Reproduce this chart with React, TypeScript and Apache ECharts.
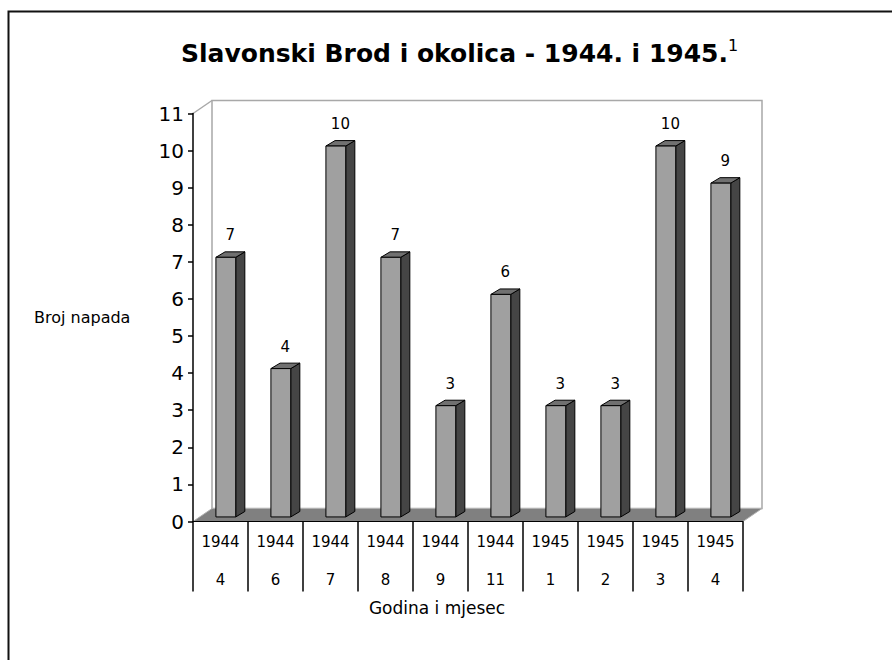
import React, { useEffect, useRef } from "react";
import * as echarts from "echarts";

const years = ["1944", "1944", "1944", "1944", "1944", "1944", "1945", "1945", "1945", "1945"];
const months = ["4", "6", "7", "8", "9", "11", "1", "2", "3", "4"];
const attacks = [7, 4, 10, 7, 3, 6, 3, 3, 10, 9];
const yTicks = { min: 0, max: 11, interval: 1 };

const titleText = "Slavonski Brod i okolica - 1944. i 1945.";
const titleNote = "1";
const yName = "Broj napada";
const xName = "Godina i mjesec";

const FONT = "DejaVu Sans";
const DEPTH = [19, -13];

export default function App() {
  const ref = useRef<HTMLDivElement>(null);
  useEffect(() => {
    document.body.style.margin = "0";
    const chart = echarts.init(ref.current!, null, { renderer: "svg" });
    const categories = years.map((y, i) => `${y}/${months[i]}`);

    const option: any = {
      animation: false,
      backgroundColor: "#ffffff",
      grid: { left: 193, right: 149, top: 113.5, bottom: 138.5, containLabel: false },
      xAxis: {
        type: "category",
        data: categories,
        boundaryGap: true,
        axisLine: { show: true, lineStyle: { color: "#000", width: 1 } },
        axisTick: { show: true, length: 70, interval: 0, alignWithLabel: false, lineStyle: { color: "#000", width: 1.5 } },
        axisLabel: {
          interval: 0,
          margin: 1.5,
          fontFamily: FONT,
          fontSize: 15,
          lineHeight: 38,
          color: "#000",
          formatter: (_v: string, i: number) => `${years[i]}\n${months[i]}`,
        },
        splitLine: { show: false },
        z: 5,
      },
      yAxis: {
        type: "value",
        min: yTicks.min,
        max: yTicks.max,
        interval: yTicks.interval,
        axisLine: { show: true, lineStyle: { color: "#000", width: 1.5 } },
        axisTick: { show: true, length: 5, inside: false, lineStyle: { color: "#000", width: 1.5 } },
        axisLabel: { margin: 9, fontFamily: FONT, fontSize: 20, color: "#000" },
        splitLine: { show: false },
        z: 5,
      },
      graphic: [
        {
          type: "rect",
          shape: { x: 8.5, y: 11.5, width: 1000, height: 1000 },
          style: { fill: "none", stroke: "#111", lineWidth: 2 },
          silent: true,
        },
        {
          type: "text",
          x: 181,
          y: 53,
          style: {
            text: titleText,
            fontFamily: FONT,
            fontWeight: "bold",
            fontSize: 25,
            fill: "#000",
            textAlign: "left",
            textVerticalAlign: "middle",
          },
        },
        {
          type: "text",
          x: 728,
          y: 45,
          style: {
            text: titleNote,
            fontFamily: FONT,
            fontSize: 16,
            fill: "#000",
            textAlign: "left",
            textVerticalAlign: "middle",
          },
        },
        {
          type: "text",
          x: 34,
          y: 317,
          style: {
            text: yName,
            fontFamily: FONT,
            fontSize: 16,
            fill: "#000",
            textAlign: "left",
            textVerticalAlign: "middle",
          },
        },
        {
          type: "text",
          x: 437,
          y: 608,
          style: {
            text: xName,
            fontFamily: FONT,
            fontSize: 17,
            fill: "#000",
            textAlign: "center",
            textVerticalAlign: "middle",
          },
        },
      ],
      series: [
        {
          type: "custom",
          name: "frame",
          z: 1,
          silent: true,
          data: [[0, 0]],
          renderItem: (params: any, api: any) => {
            const cs = params.coordSys;
            const x = cs.x, y = cs.y, w = cs.width, h = cs.height;
            const [dx, dy] = DEPTH;
            return {
              type: "group",
              children: [
                {
                  type: "polygon",
                  shape: { points: [[x + dx, y + dy], [x + w + dx, y + dy], [x + w + dx, y + h + dy], [x + dx, y + h + dy]] },
                  style: { fill: "#ffffff", stroke: "#a8a8a8", lineWidth: 1.5 },
                },
                {
                  type: "line",
                  shape: { x1: x, y1: y, x2: x + dx, y2: y + dy },
                  style: { stroke: "#a8a8a8", lineWidth: 1.5 },
                },
                {
                  type: "polygon",
                  shape: { points: [[x, y + h], [x + dx, y + h + dy], [x + w + dx, y + h + dy], [x + w, y + h]] },
                  style: { fill: "#808080", stroke: "#b0b0b0", lineWidth: 1 },
                },
              ],
            };
          },
        },
        {
          type: "custom",
          name: "Broj napada",
          z: 3,
          data: attacks.map((v, i) => [i, v]),
          renderItem: (params: any, api: any) => {
            const idx = api.value(0);
            const val = api.value(1);
            const base = api.coord([idx, 0]);
            const top = api.coord([idx, val]);
            const bw = api.size([1, 0])[0];
            const [dx, dy] = DEPTH;
            const fx = dx * 0.28, fy = dy * 0.35;
            const bdx = dx * 0.48, bdy = dy * 0.42;
            const width = bw * 0.36;
            const cx = base[0] + fx;
            const x0 = cx - width / 2;
            const x1 = cx + width / 2;
            const yb = base[1] + fy;
            const yt = top[1] + fy;
            return {
              type: "group",
              children: [
                {
                  type: "polygon",
                  shape: { points: [[x1, yt], [x1 + bdx, yt + bdy], [x1 + bdx, yb + bdy], [x1, yb]] },
                  style: { fill: "#454545", stroke: "#000", lineWidth: 1 },
                },
                {
                  type: "polygon",
                  shape: { points: [[x0, yt], [x0 + bdx, yt + bdy], [x1 + bdx, yt + bdy], [x1, yt]] },
                  style: { fill: "#707070", stroke: "#000", lineWidth: 1 },
                },
                {
                  type: "rect",
                  shape: { x: x0, y: yt, width: width, height: yb - yt },
                  style: { fill: "#a0a0a0", stroke: "#000", lineWidth: 1 },
                },
                {
                  type: "text",
                  x: cx + bdx / 2,
                  y: yt - 22,
                  style: {
                    text: String(val),
                    fontFamily: FONT,
                    fontSize: 15,
                    fill: "#000",
                    textAlign: "center",
                    textVerticalAlign: "middle",
                  },
                },
              ],
            };
          },
        },
      ],
    };
    chart.setOption(option);
    return () => chart.dispose();
  }, []);
  return <div ref={ref} style={{ width: 892, height: 660 }} />;
}
